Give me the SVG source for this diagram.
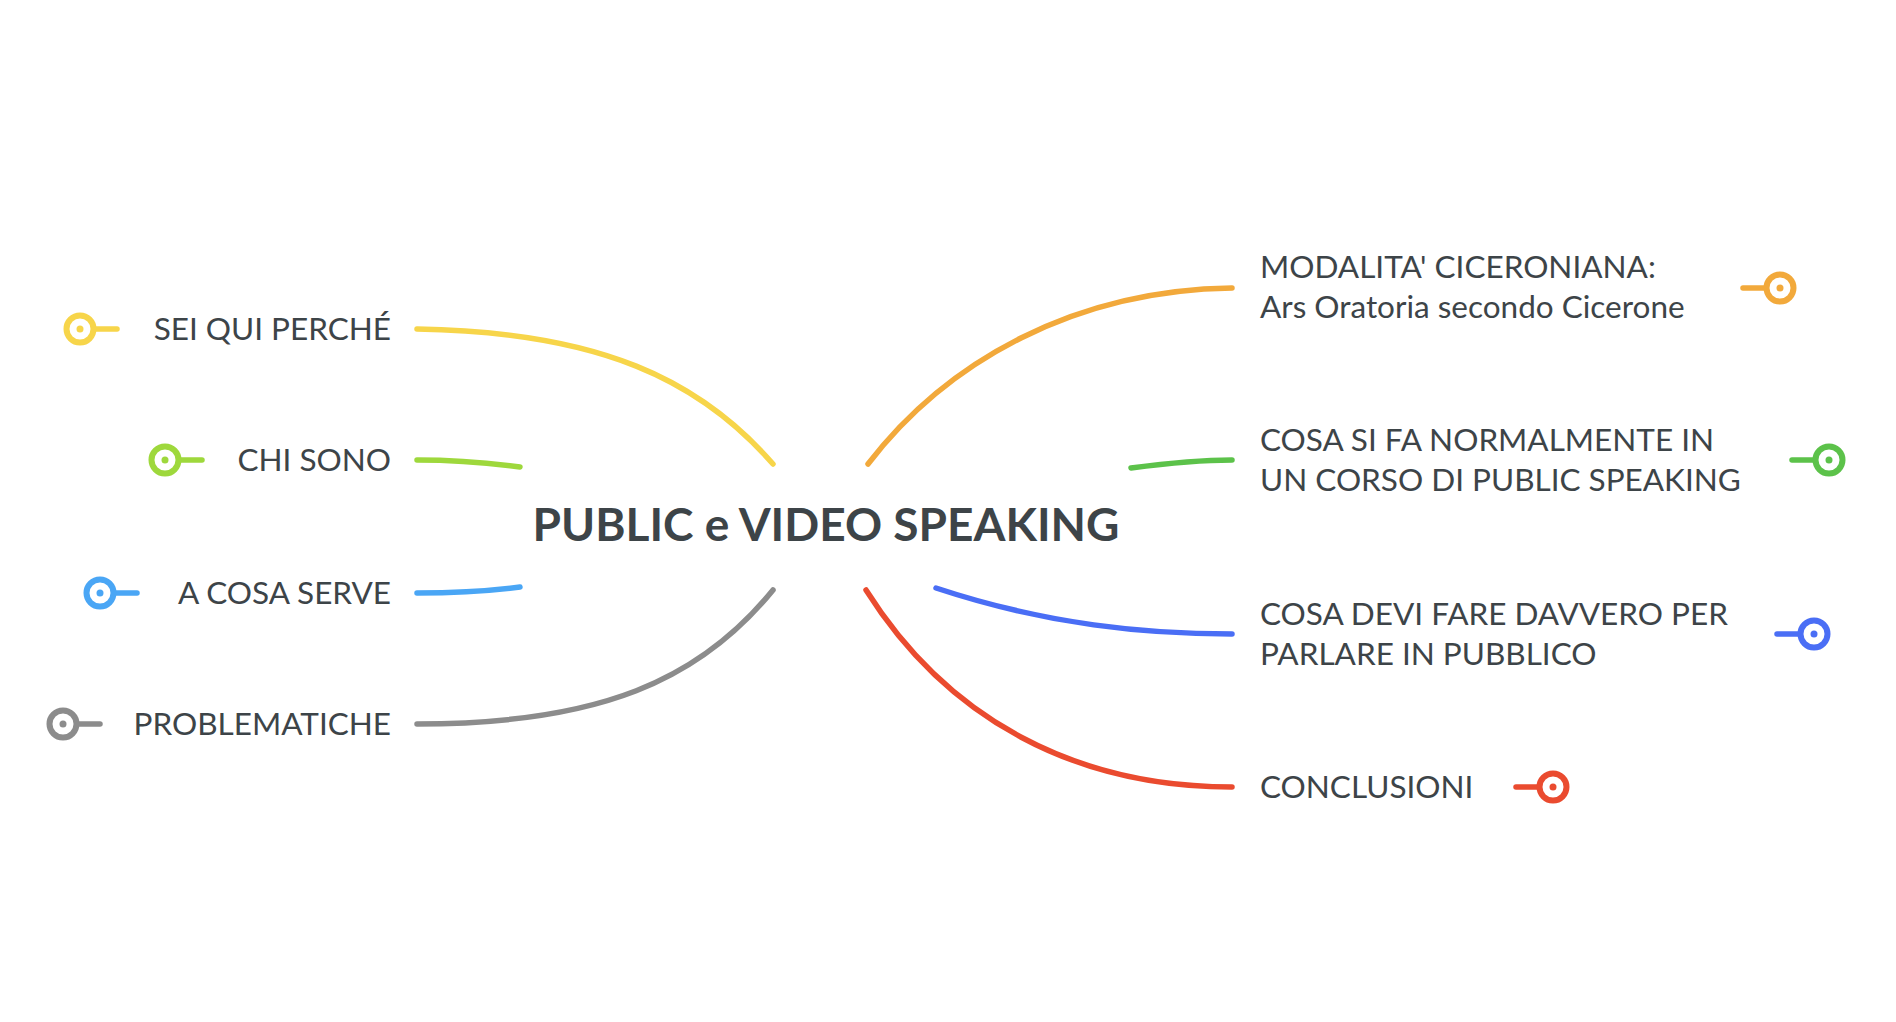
<svg xmlns="http://www.w3.org/2000/svg" width="1896" height="1022" viewBox="0 0 1896 1022">
<style>
text{font-family:Lato,"Noto Sans",sans-serif;fill:#3d4448;font-size:31.5px}
.t{font-weight:bold;font-size:46px}
path{fill:none;stroke-width:5.5;stroke-linecap:round}
.ring{fill:#fff;stroke-width:6}
</style>
<rect width="1896" height="1022" fill="#fff"/>
<g id="connectors">
<path d="M417,329 C600,332 700,380 773,464" stroke="#f7d54a"/>
<path d="M417,460 C460,460 490,463 520,467" stroke="#9ed83c"/>
<path d="M417,593 C460,593 490,591 520,587" stroke="#4aa6f5"/>
<path d="M417,724 C600,724 700,680 773,590" stroke="#8c8c8c"/>
<path d="M868,464 C948,360 1076,290 1232,288" stroke="#f2a93b"/>
<path d="M1131,468 C1177,462 1205,460 1232,460" stroke="#5cc24a"/>
<path d="M936,588 C1048,625 1146,634 1232,634" stroke="#4a6ef5"/>
<path d="M866,590 C948,720 1076,787 1232,787" stroke="#ea4b2f"/>
</g>
<g id="center"><text class="t" x="826" y="541" text-anchor="middle">PUBLIC e VIDEO SPEAKING</text></g>
<g id="n1"><path d="M80,329 H117" stroke="#f7d54a"/><circle class="ring" cx="80" cy="329" r="13.5" stroke="#f7d54a"/><circle cx="80" cy="329" r="3.5" fill="#f7d54a"/><text x="391" y="340" text-anchor="end">SEI QUI PERCHÉ</text></g>
<g id="n2"><path d="M165,460 H202" stroke="#9ed83c"/><circle class="ring" cx="165" cy="460" r="13.5" stroke="#9ed83c"/><circle cx="165" cy="460" r="3.5" fill="#9ed83c"/><text x="391" y="471" text-anchor="end">CHI SONO</text></g>
<g id="n3"><path d="M100,593 H137" stroke="#4aa6f5"/><circle class="ring" cx="100" cy="593" r="13.5" stroke="#4aa6f5"/><circle cx="100" cy="593" r="3.5" fill="#4aa6f5"/><text x="391" y="604" text-anchor="end">A COSA SERVE</text></g>
<g id="n4"><path d="M63,724 H100" stroke="#8c8c8c"/><circle class="ring" cx="63" cy="724" r="13.5" stroke="#8c8c8c"/><circle cx="63" cy="724" r="3.5" fill="#8c8c8c"/><text x="391" y="735" text-anchor="end">PROBLEMATICHE</text></g>
<g id="n5"><path d="M1743,288 H1780" stroke="#f2a93b"/><circle class="ring" cx="1780" cy="288" r="13.5" stroke="#f2a93b"/><circle cx="1780" cy="288" r="3.5" fill="#f2a93b"/><text x="1260" y="278">MODALITA' CICERONIANA:</text><text x="1260" y="318">Ars Oratoria secondo Cicerone</text></g>
<g id="n6"><path d="M1792,460 H1829" stroke="#5cc24a"/><circle class="ring" cx="1829" cy="460" r="13.5" stroke="#5cc24a"/><circle cx="1829" cy="460" r="3.5" fill="#5cc24a"/><text x="1260" y="451">COSA SI FA NORMALMENTE IN</text><text x="1260" y="491">UN CORSO DI PUBLIC SPEAKING</text></g>
<g id="n7"><path d="M1777,634 H1814" stroke="#4a6ef5"/><circle class="ring" cx="1814" cy="634" r="13.5" stroke="#4a6ef5"/><circle cx="1814" cy="634" r="3.5" fill="#4a6ef5"/><text x="1260" y="625">COSA DEVI FARE DAVVERO PER</text><text x="1260" y="665">PARLARE IN PUBBLICO</text></g>
<g id="n8"><path d="M1516,787 H1553" stroke="#ea4b2f"/><circle class="ring" cx="1553" cy="787" r="13.5" stroke="#ea4b2f"/><circle cx="1553" cy="787" r="3.5" fill="#ea4b2f"/><text x="1260" y="798">CONCLUSIONI</text></g>
</svg>
